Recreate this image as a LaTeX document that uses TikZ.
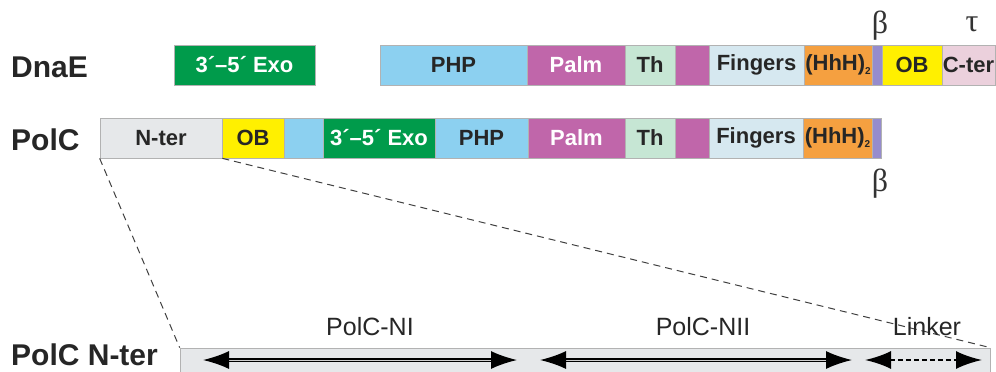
\documentclass[tikz,border=0pt]{standalone}
\usepackage{fontspec}
\setmainfont{Liberation Sans}
\newfontfamily\greekfont{Liberation Serif}
\usetikzlibrary{arrows.meta}

\definecolor{exogreen}{RGB}{0,155,75}
\definecolor{phpblue}{RGB}{140,208,240}
\definecolor{palmpink}{RGB}{192,102,170}
\definecolor{thgreen}{RGB}{198,230,212}
\definecolor{fingblue}{RGB}{214,232,240}
\definecolor{hhhorange}{RGB}{245,160,64}
\definecolor{betapurple}{RGB}{150,140,205}
\definecolor{obyellow}{RGB}{255,240,0}
\definecolor{cterpink}{RGB}{235,208,220}
\definecolor{ntergrey}{RGB}{230,232,234}

\begin{document}
\begin{tikzpicture}[x=1pt,y=-1pt,
	dom/.style={draw=black!30,line width=0.7pt,minimum height=40pt,inner sep=0pt,
		font=\fontsize{22}{24}\selectfont\bfseries,text=black!85},
	rowlabel/.style={anchor=west,inner sep=0pt,font=\fontsize{30}{32}\selectfont\bfseries,text=black!85},
	greek/.style={inner sep=0pt,font=\fontsize{32}{34}\selectfont\greekfont,text=black!80},
	region/.style={inner sep=0pt,font=\fontsize{25}{27}\selectfont,text=black!85},
	zoomline/.style={dashed,dash pattern=on 7pt off 5pt,line width=1pt,black!75},
	span/.style={line width=1.6pt,double=black!20,double distance=1pt,
		{Latex[length=26pt,width=18pt]}-{Latex[length=26pt,width=18pt]}}]
	
	\useasboundingbox (0,0) rectangle (996,372);
	
	% row labels
	\node[rowlabel] (dnae)  at (11,67)  {DnaE};
	\node[rowlabel] (polc)  at (11,140) {PolC};
	\node[rowlabel] (nterl) at (11,355) {PolC N-ter};
	
	% DnaE
	\node[dom,fill=exogreen,text=white,minimum width=141pt] (exoA)  at (244.5,65) {3´–5´ Exo};
	\node[dom,fill=phpblue,minimum width=147pt]            (phpA)  at (453.5,65) {PHP};
	\node[dom,fill=palmpink,text=white,minimum width=98pt] (palmA) at (576,65)   {Palm};
	\node[dom,fill=thgreen,minimum width=50pt]             (thA)   at (650,65)   {Th};
	\node[dom,fill=palmpink,minimum width=34pt]            (magA)  at (692,65)   {};
	\node[dom,fill=fingblue,minimum width=95pt]            (fingA) at (756.5,65) {Fingers};
	\node[dom,fill=hhhorange,minimum width=68pt]           (hhhA)  at (838,65)   {(HhH)\raisebox{-0.35ex}{\fontsize{10}{10}\selectfont 2}};
	\node[dom,fill=betapurple,minimum width=10pt]          (betA)  at (877,65)   {};
	\node[dom,fill=obyellow,minimum width=60pt]            (obA)   at (912,65)   {OB};
	\node[dom,fill=cterpink,minimum width=53pt]            (cter)  at (968.5,65) {C-ter};
	
	% PolC
	\node[dom,fill=ntergrey,minimum width=122pt]           (nter)  at (161,138)   {N-ter};
	\node[dom,fill=obyellow,minimum width=62pt]            (obB)   at (253,138)   {OB};
	\node[dom,fill=phpblue,minimum width=39pt]             (phpB0) at (303.5,138) {};
	\node[dom,fill=exogreen,text=white,minimum width=112pt] (exoB) at (379,138)   {3´–5´ Exo};
	\node[dom,fill=phpblue,minimum width=93pt]             (phpB)  at (481.5,138) {PHP};
	\node[dom,fill=palmpink,text=white,minimum width=97pt] (palmB) at (576.5,138) {Palm};
	\node[dom,fill=thgreen,minimum width=50pt]             (thB)   at (650,138)   {Th};
	\node[dom,fill=palmpink,minimum width=34pt]            (magB)  at (692,138)   {};
	\node[dom,fill=fingblue,minimum width=94pt]            (fingB) at (756,138)   {Fingers};
	\node[dom,fill=hhhorange,minimum width=69pt]           (hhhB)  at (837.5,138) {(HhH)\raisebox{-0.35ex}{\fontsize{10}{10}\selectfont 2}};
	\node[dom,fill=betapurple,minimum width=9pt]           (betB)  at (876.5,138) {};
	
	% binding sites
	\node[greek] (betaup)   at (880,26)  {β};
	\node[greek] (tau)      at (972,24)  {τ};
	\node[greek] (betadown) at (880,184) {β};
	
	% N-terminal region
	\node[draw=black!30,line width=0.7pt,fill=ntergrey,minimum width=810pt,minimum height=30pt,inner sep=0pt] (nbar) at (585,363) {};
	\path[zoomline] (nter.south west) edge (nbar.north west);
	\path[zoomline] (nter.south east) edge (nbar.north east);
	
	\coordinate (niL)  at (203,360);
	\coordinate (niR)  at (517,360);
	\coordinate (niiL) at (540,360);
	\coordinate (niiR) at (852,360);
	\coordinate (lkL)  at (865,360);
	\coordinate (lkR)  at (982,360);
	\draw[span] (niL) -- (niR);
	\draw[span] (niiL) -- (niiR);
	\draw[line width=2.4pt,dash pattern=on 5pt off 3pt,{Latex[length=26pt,width=18pt]}-{Latex[length=26pt,width=18pt]}] (lkL) -- (lkR);
	
	\node[region] (ni)  at (370,327) {PolC-NI};
	\node[region] (nii) at (703,327) {PolC-NII};
	\node[region] (lk)  at (927,327) {Linker};
	
\end{tikzpicture}
\end{document}
